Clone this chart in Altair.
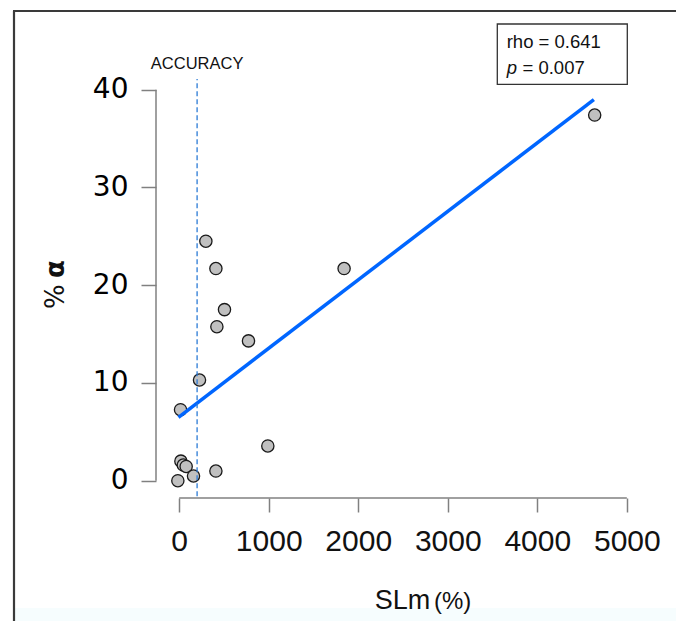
import altair as alt
import pandas as pd

# ---- data ----
slm_pct = [298, 410, 1842, 506, 421, 774, 227, 15, 990, 19, 46, 78, 160, 410, -15, 4641]
alpha_pct = [24.5, 21.7, 21.7, 17.5, 15.75, 14.3, 10.3, 7.26, 3.55, 2.0, 1.6, 1.46, 0.48, 0.99, 0.0, 37.4]

fit_x = [-8, 4632]
fit_y = [6.48, 38.98]

accuracy_x = 200
accuracy_y = [-1.6, 41.1]

x_ticks = [0, 1000, 2000, 3000, 4000, 5000]
y_ticks = [0, 10, 20, 30, 40]

rho_text = "rho = 0.641"
p_label = "p"
p_value_text = "= 0.007"

W, H = 489, 424
xs = alt.Scale(domain=[-259, 5203], nice=False, zero=False)
ys = alt.Scale(domain=[-1.77, 41.6], nice=False, zero=False)

pts = pd.DataFrame({"x": slm_pct, "y": alpha_pct})
fit = pd.DataFrame({"x": fit_x, "y": fit_y})
acc = pd.DataFrame({"x": [accuracy_x, accuracy_x], "y": accuracy_y})

GRAY = "#808080"

points = alt.Chart(pts).mark_circle(
    size=150, color="#c0c0c0", stroke="#1a1a1a", strokeWidth=1.3, opacity=1
).encode(
    x=alt.X("x:Q", scale=xs, axis=alt.Axis(
        values=x_ticks, domain=False, grid=False, tickSize=14, tickColor=GRAY,
        tickWidth=1.5, labelFont="Liberation Sans", labelFontSize=30,
        labelColor="#111", labelPadding=14, labelFlush=False, title=None,
        format="d")),
    y=alt.Y("y:Q", scale=ys, axis=alt.Axis(
        values=y_ticks, domain=False, grid=False, tickSize=15, tickColor=GRAY,
        tickWidth=1.5, labelFont="DejaVu Sans", labelFontSize=28,
        labelColor="black", labelPadding=13, labelFlush=False, title=None,
        format="d")),
)

fit_line = alt.Chart(fit).mark_line(color="#0066ff", strokeWidth=3.5).encode(
    x=alt.X("x:Q", scale=xs), y=alt.Y("y:Q", scale=ys)
)

acc_line = alt.Chart(acc).mark_line(
    color="#2b7bd6", strokeWidth=1.3, strokeDash=[5, 3]
).encode(x=alt.X("x:Q", scale=xs), y=alt.Y("y:Q", scale=ys))

acc_text = alt.Chart(pd.DataFrame({"x": [accuracy_x], "t": ["ACCURACY"]})).mark_text(
    font="Liberation Sans", fontSize=16.5, color="#111", align="center",
    baseline="alphabetic"
).encode(x=alt.X("x:Q", scale=xs), y=alt.value(-5), text="t:N")

# R-style axis lines spanning only the tick range
yaxis_line = alt.Chart(pd.DataFrame({"y": [y_ticks[0]], "y2": [y_ticks[-1]]})).mark_rule(
    color=GRAY, strokeWidth=1.5
).encode(x=alt.value(0), y=alt.Y("y:Q", scale=ys), y2="y2:Q")

xaxis_line = alt.Chart(pd.DataFrame({"x": [x_ticks[0]], "x2": [x_ticks[-1]]})).mark_rule(
    color=GRAY, strokeWidth=1.5
).encode(y=alt.value(H), x=alt.X("x:Q", scale=xs), x2="x2:Q")

one = pd.DataFrame({"k": [0]})

legend_box = alt.Chart(one).mark_rect(
    fill="white", stroke="#333", strokeWidth=1.3
).encode(x=alt.value(341.3), x2=alt.value(471.3), y=alt.value(-50), y2=alt.value(10.3))

rho = alt.Chart(pd.DataFrame({"t": [rho_text]})).mark_text(
    font="Liberation Sans", fontSize=18.5, color="#111", align="left", baseline="alphabetic"
).encode(x=alt.value(350.7), y=alt.value(-25.7), text="t:N")

p_it = alt.Chart(pd.DataFrame({"t": [p_label]})).mark_text(
    font="Liberation Sans", fontSize=18.5, fontStyle="italic", color="#111",
    align="left", baseline="alphabetic"
).encode(x=alt.value(350.7), y=alt.value(0), text="t:N")

p_val = alt.Chart(pd.DataFrame({"t": [p_value_text]})).mark_text(
    font="Liberation Sans", fontSize=18.5, color="#111", align="left", baseline="alphabetic"
).encode(x=alt.value(366.5), y=alt.value(0), text="t:N")

xt1 = alt.Chart(pd.DataFrame({"t": ["SLm"]})).mark_text(
    font="Liberation Sans", fontSize=27, color="#111", align="left", baseline="alphabetic"
).encode(x=alt.value(218.8), y=alt.value(535.3), text="t:N")

xt2 = alt.Chart(pd.DataFrame({"t": ["(%)"]})).mark_text(
    font="Liberation Sans", fontSize=24, color="#111", align="left", baseline="alphabetic"
).encode(x=alt.value(278), y=alt.value(535.3), text="t:N")

yt1 = alt.Chart(pd.DataFrame({"t": ["%"]})).mark_text(
    font="DejaVu Sans", fontSize=26, color="#111", align="left", baseline="alphabetic",
    angle=270
).encode(x=alt.value(-92.5), y=alt.value(235), text="t:N")

yt2 = alt.Chart(pd.DataFrame({"t": ["α"]})).mark_text(
    font="DejaVu Sans", fontSize=26, fontWeight="bold", color="#111", align="left",
    baseline="alphabetic", angle=270
).encode(x=alt.value(-92.5), y=alt.value(204), text="t:N")

frame_left = alt.Chart(one).mark_rule(color="#3a3a3a", strokeWidth=2.2).encode(
    x=alt.value(-142), y=alt.value(-63), y2=alt.value(547))
frame_top = alt.Chart(one).mark_rule(color="#3a3a3a", strokeWidth=2.2).encode(
    y=alt.value(-63), x=alt.value(-143), x2=alt.value(520))
strip = alt.Chart(one).mark_rect(color="#f6fdfe").encode(
    x=alt.value(-141), x2=alt.value(520), y=alt.value(534), y2=alt.value(547))

chart = alt.layer(
    strip, frame_left, frame_top,
    points, fit_line, acc_line, acc_text,
    yaxis_line, xaxis_line,
    legend_box, rho, p_it, p_val,
    xt1, xt2, yt1, yt2,
).properties(
    width=W, height=H,
    padding={"left": 156, "top": 74, "right": 31, "bottom": 123},
    autosize=alt.AutoSizeParams(type="none"),
    background="white",
).configure_view(strokeWidth=0)

chart.save("out.html", embed_options={"renderer": "svg", "actions": False})
